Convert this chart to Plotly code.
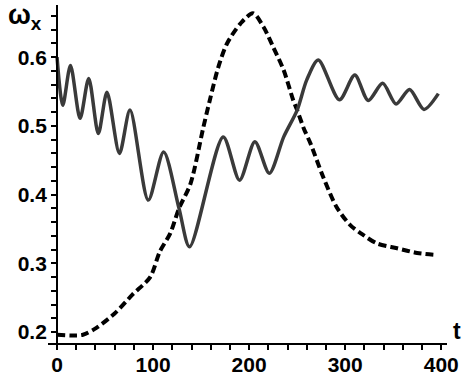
import plotly.graph_objects as go

# solid curve (extrema and a few intermediate points)
t_solid = [0, 6, 14, 24, 33, 43, 52, 65, 76, 95, 111, 127, 138, 173, 190, 206, 221, 236, 250, 260, 272, 294, 310, 324, 339, 353, 367, 382, 397]
w_solid = [0.600, 0.530, 0.588, 0.511, 0.569, 0.489, 0.549, 0.460, 0.523, 0.392, 0.462, 0.380, 0.324, 0.484, 0.421, 0.477, 0.431, 0.484, 0.523, 0.567, 0.596, 0.538, 0.574, 0.537, 0.562, 0.532, 0.553, 0.524, 0.547]

# dashed curve
t_dash = [0, 15, 27, 41, 60, 79, 97, 107, 118, 127, 139, 152, 159, 168, 177, 191, 204, 215, 225, 236, 246, 250, 257, 264, 277, 291, 305, 319, 333, 354, 375, 396]
w_dash = [0.196, 0.195, 0.196, 0.206, 0.227, 0.255, 0.280, 0.317, 0.344, 0.380, 0.416, 0.496, 0.537, 0.586, 0.620, 0.649, 0.664, 0.644, 0.615, 0.581, 0.537, 0.523, 0.496, 0.474, 0.426, 0.382, 0.356, 0.341, 0.329, 0.322, 0.315, 0.312]

x_ticks = [0, 100, 200, 300, 400]
y_ticks = [0.2, 0.3, 0.4, 0.5, 0.6]

x_range = [-9.4, 406]
y_range = [0.184, 0.676]

fig = go.Figure()
fig.add_trace(go.Scatter(x=t_dash, y=w_dash, mode="lines",
                         line=dict(color="black", width=4, dash="8px,4px", shape="spline", smoothing=0.8),
                         hoverinfo="skip", showlegend=False))
fig.add_trace(go.Scatter(x=t_solid, y=w_solid, mode="lines",
                         line=dict(color="#3a3a3a", width=3.5, shape="spline", smoothing=0.8),
                         hoverinfo="skip", showlegend=False))

tickfont = dict(family="Liberation Sans", size=21, color="black", weight="bold")

fig.update_layout(
    width=473, height=383,
    margin=dict(l=48, r=26, t=5, b=40),
    paper_bgcolor="white", plot_bgcolor="white",
    xaxis=dict(range=x_range, tickvals=x_ticks, ticktext=[str(v) for v in x_ticks],
               automargin=False, ticklabelstandoff=-3,
               showgrid=False, zeroline=False, showline=True, linecolor="black", linewidth=2,
               ticks="outside", ticklen=5, tickwidth=1.5, tickcolor="black",
               minor=dict(dtick=20, tick0=0, ticks="outside", ticklen=5, tickwidth=1.5, tickcolor="black"),
               tickfont=tickfont),
    yaxis=dict(range=y_range, tickvals=y_ticks, ticktext=["%.1f" % v for v in y_ticks],
               automargin=False,
               anchor="free", position=9.4 / 415.4,
               showgrid=False, zeroline=False, showline=True, linecolor="black", linewidth=2,
               ticks="outside", ticklen=5, tickwidth=1.5, tickcolor="black",
               minor=dict(dtick=0.02, tick0=0.2, ticks="outside", ticklen=5, tickwidth=1.5, tickcolor="black"),
               tickfont=tickfont),
    annotations=[
        dict(text="<b>ω</b><sub><b>x</b></sub>", xref="paper", yref="paper", x=-0.105, y=0.965,
             xanchor="left", yanchor="middle", showarrow=False,
             font=dict(family="Liberation Sans", size=27, color="black")),
        dict(text="<b>t</b>", xref="paper", yref="paper", x=1.01, y=0.035,
             xanchor="left", yanchor="middle", showarrow=False,
             font=dict(family="Liberation Sans", size=23, color="black")),
    ],
)

fig.write_html("out.html", config={"displayModeBar": False},
               post_script="document.body.style.margin='0';document.body.style.padding='0';")
